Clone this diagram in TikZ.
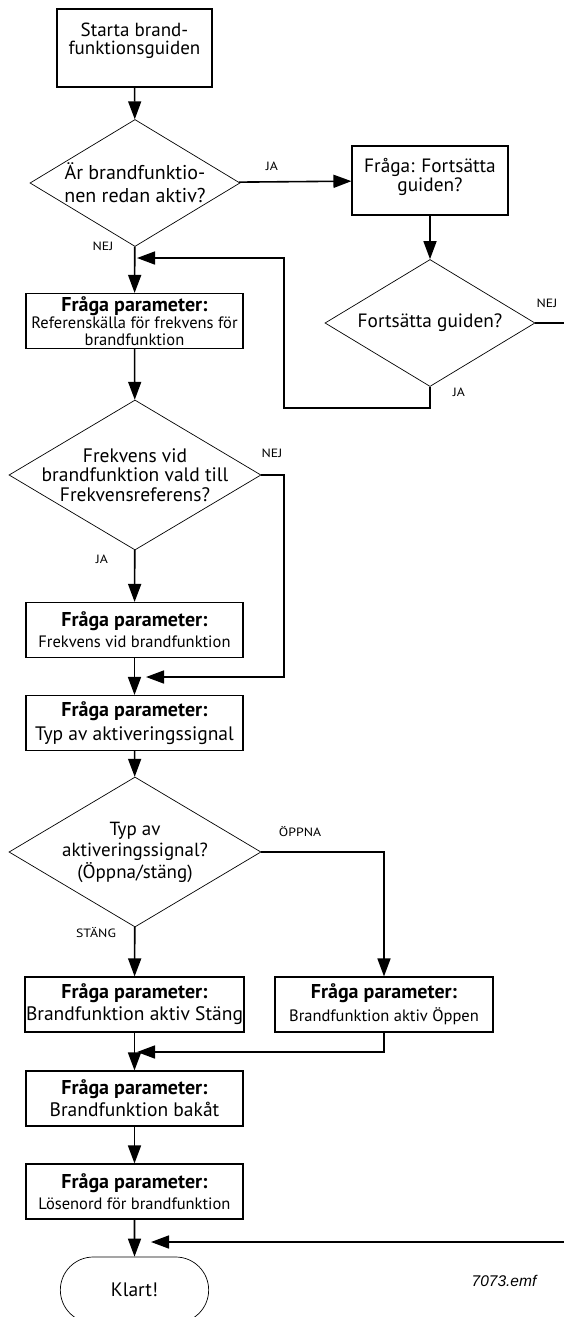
\documentclass[tikz,border=0pt]{standalone}
\usepackage{fontspec}
\setmainfont{PT Sans}
\newfontfamily\tagfont{PT Sans}[FakeStretch=1.15]
\newfontfamily\emffont{Liberation Sans}
\usetikzlibrary{shapes.geometric,shapes.misc,arrows.meta}

\newcommand{\askpar}{{\bfseries\fontsize{20}{22}\selectfont Fråga parameter:}}

\begin{document}
\begin{tikzpicture}[x=1pt,y=-1pt,
    >={Triangle[length=18pt,width=13pt]},
    big/.style={font=\fontsize{19.3}{19}\selectfont},
    large/.style={font=\fontsize{19.5}{22}\selectfont},
    small/.style={font=\fontsize{16.5}{17}\selectfont},
    box/.style={draw,line width=1.1pt,minimum width=217pt,minimum height=55pt,align=center,inner sep=1pt},
    query/.style={draw,diamond,aspect=2,inner sep=-25pt,line width=0.7pt,align=center,big},
    tag/.style={font=\tagfont\fontsize{12}{14}\selectfont},
    flow/.style={->,line width=1.6pt}]
    \useasboundingbox (0,0) rectangle (564,1317);

    \node[box,minimum width=155pt,minimum height=78pt,
        label={[font=\fontsize{19}{18}\selectfont,align=center,yshift=7pt]center:Starta brand-\\funktionsguiden}] (start) at (134.5,48) {};
    \node[query,minimum width=210pt,minimum height=127pt,font=\fontsize{20}{23}\selectfont] (isactive) at (135,183) {Är brandfunktio-\\nen redan aktiv?};
    \node[box,minimum width=156pt,minimum height=69pt,
        label={[big,align=center,yshift=4pt]center:Fråga: Fortsätta\\guiden?}] (askgo) at (430,180.5) {};
    \node[query,minimum width=210pt,minimum height=127pt] (goon) at (430,323) {Fortsätta guiden?};
    \node[box,small] (refsrc) at (134.5,321) {\askpar\\Referenskälla för frekvens för\\brandfunktion};
    \node[query,minimum width=252pt,minimum height=150pt,font=\fontsize{19.5}{19.5}\selectfont] (isref) at (135,475) {Frekvens vid\\brandfunktion vald till\\Frekvensreferens?};
    \node[box,small] (freq) at (134.5,630) {\askpar\\[4pt]Frekvens vid brandfunktion};
    \node[box,large] (sigtype) at (134.5,723) {\askpar\\[2pt]Typ av aktiveringssignal};
    \node[query,minimum width=252pt,minimum height=150pt,font=\fontsize{19}{21.5}\selectfont] (whichsig) at (135,852) {Typ av\\aktiveringssignal?\\(Öppna/stäng)};
    \node[box,large] (closed) at (134.5,1004.5) {\askpar\\Brandfunktion aktiv Stäng};
    \node[box,small,minimum width=218pt] (opened) at (384,1004.5) {\askpar\\[4pt]Brandfunktion aktiv Öppen};
    \node[box,large] (reverse) at (134.5,1098.5) {\askpar\\Brandfunktion bakåt};
    \node[box,small] (passwd) at (134.5,1191.5) {\askpar\\[4pt]Lösenord för brandfunktion};
    \node[draw,rounded rectangle,minimum width=155pt,minimum height=66pt,line width=0.7pt,large] (done) at (134.5,1290) {Klart!};
    \node[font=\emffont\itshape\fontsize{15.5}{17}\selectfont] (emf) at (504,1281) {7073.emf};

    \node[tag] (ja1) at (272,166) {JA};
    \node[tag] (nej1) at (103,246) {NEJ};
    \node[tag] (nej2) at (547,303) {NEJ};
    \node[tag] (ja2) at (459,392) {JA};
    \node[tag] (nej3) at (272,453) {NEJ};
    \node[tag] (ja3) at (102,559) {JA};
    \node[tag] (open) at (300,832) {ÖPPNA};
    \node[tag] (close) at (96,933) {STÄNG};

    \coordinate (j1) at (137,258);
    \coordinate (k1) at (284,408);
    \coordinate (j3) at (146,677);
    \coordinate (k3) at (284,677);
    \coordinate (j5) at (137,1052);
    \coordinate (j7) at (151,1242);
    \coordinate (k7) at (600,1242);

    \draw[flow] (start) -- (isactive);
    \draw[flow] (isactive) -- (askgo);
    \draw[flow] (isactive) -- (refsrc);
    \draw[flow] (askgo) -- (goon);
    \draw[flow] (goon.south) |- (k1) |- (j1);
    \draw[flow] (goon.east) -| (k7) -- (j7);
    \draw[flow] (refsrc) -- (isref);
    \draw[flow] (isref) -- (freq);
    \draw[flow] (isref.east) -| (k3) -- (j3);
    \draw[flow] (freq) -- (sigtype);
    \draw[flow] (sigtype) -- (whichsig);
    \draw[flow] (whichsig) -- (closed);
    \draw[flow] (whichsig.east) -| (opened);
    \draw[flow] (opened.south) |- (j5);
    \draw[flow] (closed) -- (reverse);
    \draw[flow] (reverse) -- (passwd);
    \draw[flow] (passwd) -- (done);
\end{tikzpicture}
\end{document}
